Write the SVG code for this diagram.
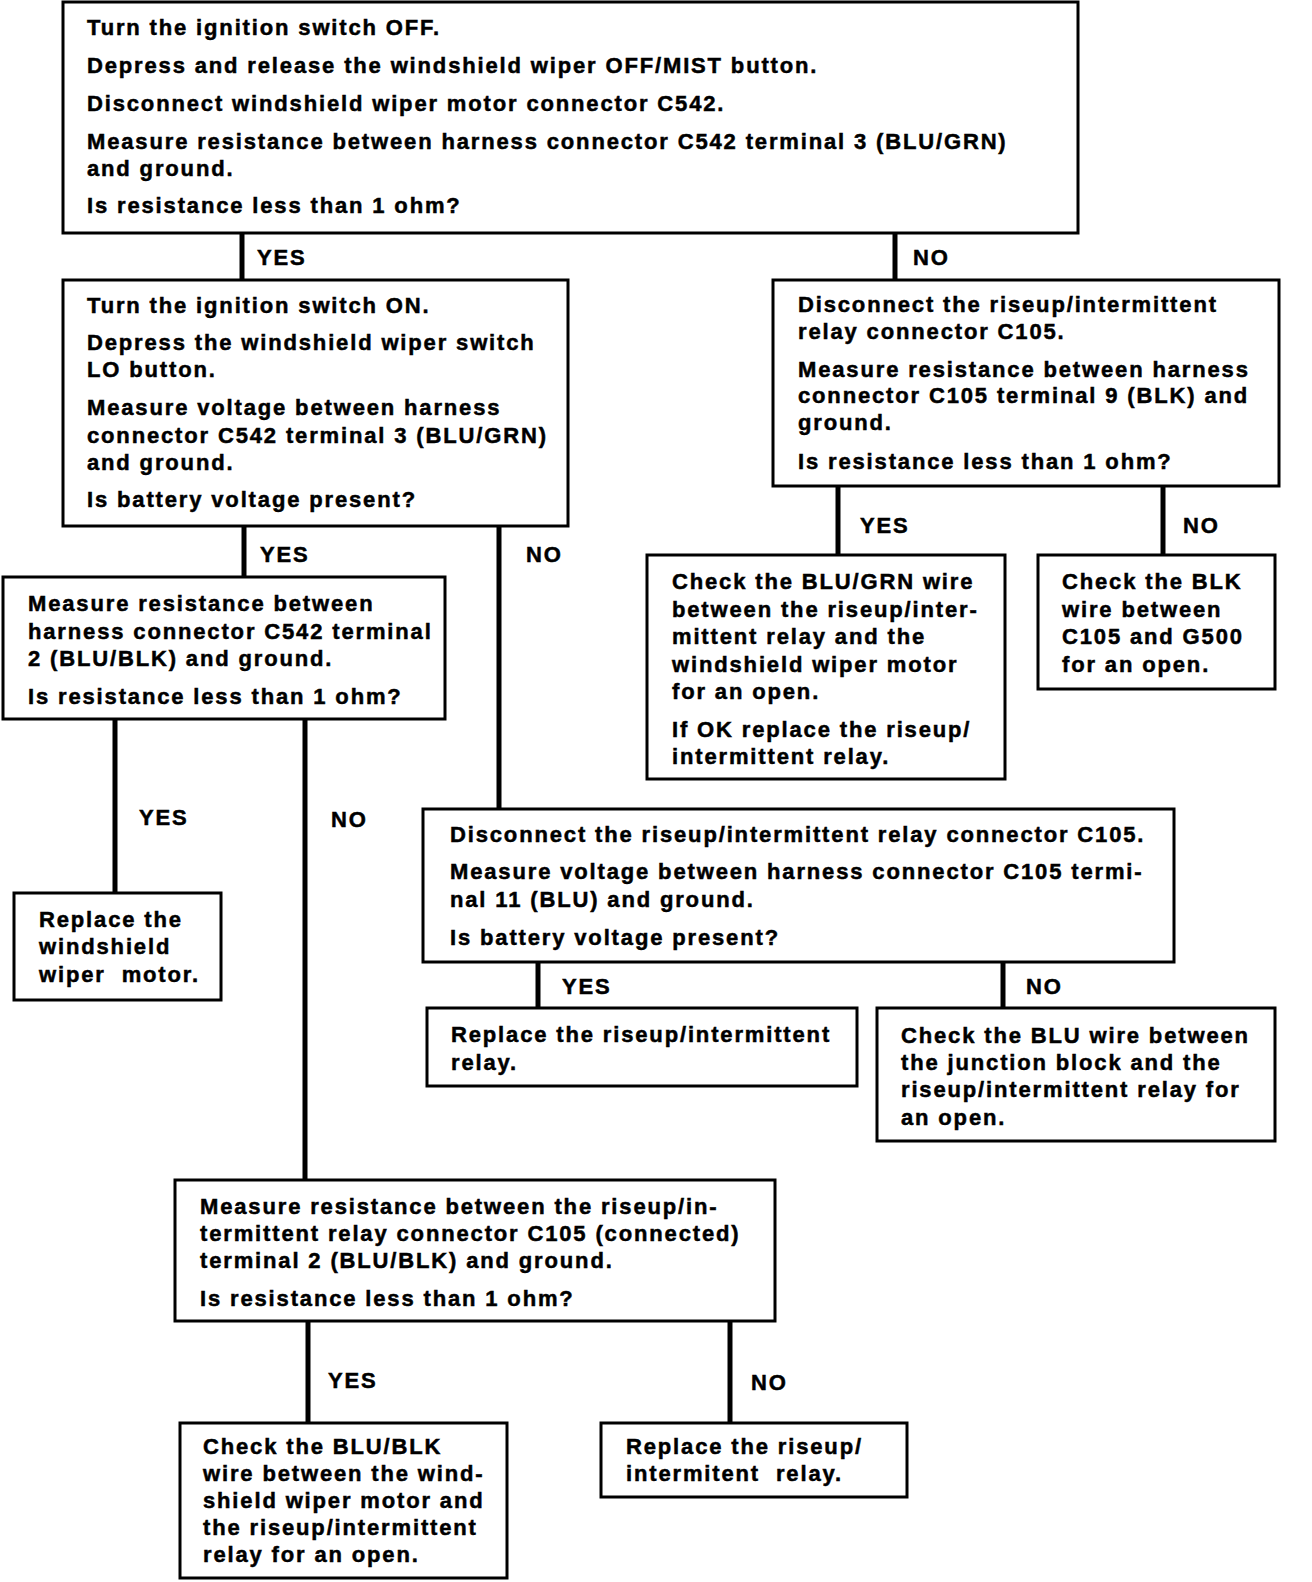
<svg xmlns="http://www.w3.org/2000/svg" width="1312" height="1582" viewBox="0 0 1312 1582">
<style>
.box{fill:#fff;stroke:#000;stroke-width:3}
.con{stroke:#000;stroke-width:5;fill:none}
text{font-family:"Liberation Sans",Arial,sans-serif;font-weight:bold;font-size:22px;letter-spacing:1.85px;fill:#000;stroke:#000;stroke-width:0.5}
</style>
<rect width="1312" height="1582" fill="#fff"/>
<g id="connectors">
<line class="con" x1="242" y1="233" x2="242" y2="280"/>
<line class="con" x1="895" y1="233" x2="895" y2="280"/>
<line class="con" x1="244" y1="526" x2="244" y2="577"/>
<line class="con" x1="499" y1="526" x2="499" y2="809"/>
<line class="con" x1="838" y1="486" x2="838" y2="555"/>
<line class="con" x1="1163" y1="486" x2="1163" y2="555"/>
<line class="con" x1="115" y1="719" x2="115" y2="893"/>
<line class="con" x1="305" y1="719" x2="305" y2="1180"/>
<line class="con" x1="538" y1="962" x2="538" y2="1008"/>
<line class="con" x1="1003" y1="962" x2="1003" y2="1008"/>
<line class="con" x1="308" y1="1321" x2="308" y2="1423"/>
<line class="con" x1="730" y1="1321" x2="730" y2="1423"/>
<text x="257" y="265">YES</text>
<text x="913" y="265">NO</text>
<text x="260" y="562">YES</text>
<text x="526" y="562">NO</text>
<text x="860" y="533">YES</text>
<text x="1183" y="533">NO</text>
<text x="139" y="825">YES</text>
<text x="331" y="827">NO</text>
<text x="562" y="994">YES</text>
<text x="1026" y="994">NO</text>
<text x="328" y="1388">YES</text>
<text x="751" y="1390">NO</text>
</g>
<g id="n1">
<rect class="box" x="63" y="2" width="1015" height="231"/>
<text x="87" y="35">Turn the ignition switch OFF.</text>
<text x="87" y="73">Depress and release the windshield wiper OFF/MIST button.</text>
<text x="87" y="111">Disconnect windshield wiper motor connector C542.</text>
<text x="87" y="149">Measure resistance between harness connector C542 terminal 3 (BLU/GRN)</text>
<text x="87" y="176">and ground.</text>
<text x="87" y="213">Is resistance less than 1 ohm?</text>
</g>
<g id="n2">
<rect class="box" x="63" y="280" width="505" height="246"/>
<text x="87" y="313">Turn the ignition switch ON.</text>
<text x="87" y="350">Depress the windshield wiper switch</text>
<text x="87" y="377">LO button.</text>
<text x="87" y="415">Measure voltage between harness</text>
<text x="87" y="443">connector C542 terminal 3 (BLU/GRN)</text>
<text x="87" y="470">and ground.</text>
<text x="87" y="507">Is battery voltage present?</text>
</g>
<g id="n3">
<rect class="box" x="773" y="280" width="506" height="206"/>
<text x="798" y="312">Disconnect the riseup/intermittent</text>
<text x="798" y="339">relay connector C105.</text>
<text x="798" y="377">Measure resistance between harness</text>
<text x="798" y="403">connector C105 terminal 9 (BLK) and</text>
<text x="798" y="430">ground.</text>
<text x="798" y="469">Is resistance less than 1 ohm?</text>
</g>
<g id="n4">
<rect class="box" x="3" y="577" width="442" height="142"/>
<text x="28" y="611">Measure resistance between</text>
<text x="28" y="639">harness connector C542 terminal</text>
<text x="28" y="666">2 (BLU/BLK) and ground.</text>
<text x="28" y="704">Is resistance less than 1 ohm?</text>
</g>
<g id="n5">
<rect class="box" x="647" y="555" width="358" height="224"/>
<text x="672" y="589">Check the BLU/GRN wire</text>
<text x="672" y="617">between the riseup/inter-</text>
<text x="672" y="644">mittent relay and the</text>
<text x="672" y="672">windshield wiper motor</text>
<text x="672" y="699">for an open.</text>
<text x="672" y="737">If OK replace the riseup/</text>
<text x="672" y="764">intermittent relay.</text>
</g>
<g id="n6">
<rect class="box" x="1038" y="555" width="237" height="134"/>
<text x="1062" y="589">Check the BLK</text>
<text x="1062" y="617">wire between</text>
<text x="1062" y="644">C105 and G500</text>
<text x="1062" y="672">for an open.</text>
</g>
<g id="n7">
<rect class="box" x="14" y="893" width="207" height="107"/>
<text x="39" y="927">Replace the</text>
<text x="39" y="954">windshield</text>
<text x="39" y="982" xml:space="preserve">wiper  motor.</text>
</g>
<g id="n8">
<rect class="box" x="423" y="809" width="751" height="153"/>
<text x="450" y="842">Disconnect the riseup/intermittent relay connector C105.</text>
<text x="450" y="879">Measure voltage between harness connector C105 termi-</text>
<text x="450" y="907">nal 11 (BLU) and ground.</text>
<text x="450" y="945">Is battery voltage present?</text>
</g>
<g id="n9">
<rect class="box" x="427" y="1008" width="430" height="78"/>
<text x="451" y="1042">Replace the riseup/intermittent</text>
<text x="451" y="1070">relay.</text>
</g>
<g id="n10">
<rect class="box" x="877" y="1008" width="398" height="133"/>
<text x="901" y="1043">Check the BLU wire between</text>
<text x="901" y="1070">the junction block and the</text>
<text x="901" y="1097">riseup/intermittent relay for</text>
<text x="901" y="1125">an open.</text>
</g>
<g id="n11">
<rect class="box" x="175" y="1180" width="600" height="141"/>
<text x="200" y="1214">Measure resistance between the riseup/in-</text>
<text x="200" y="1241">termittent relay connector C105 (connected)</text>
<text x="200" y="1268">terminal 2 (BLU/BLK) and ground.</text>
<text x="200" y="1306">Is resistance less than 1 ohm?</text>
</g>
<g id="n12">
<rect class="box" x="180" y="1423" width="327" height="155"/>
<text x="203" y="1454">Check the BLU/BLK</text>
<text x="203" y="1481">wire between the wind-</text>
<text x="203" y="1508">shield wiper motor and</text>
<text x="203" y="1535">the riseup/intermittent</text>
<text x="203" y="1562">relay for an open.</text>
</g>
<g id="n13">
<rect class="box" x="601" y="1423" width="306" height="74"/>
<text x="626" y="1454">Replace the riseup/</text>
<text x="626" y="1481" xml:space="preserve">intermitent  relay.</text>
</g>
</svg>
